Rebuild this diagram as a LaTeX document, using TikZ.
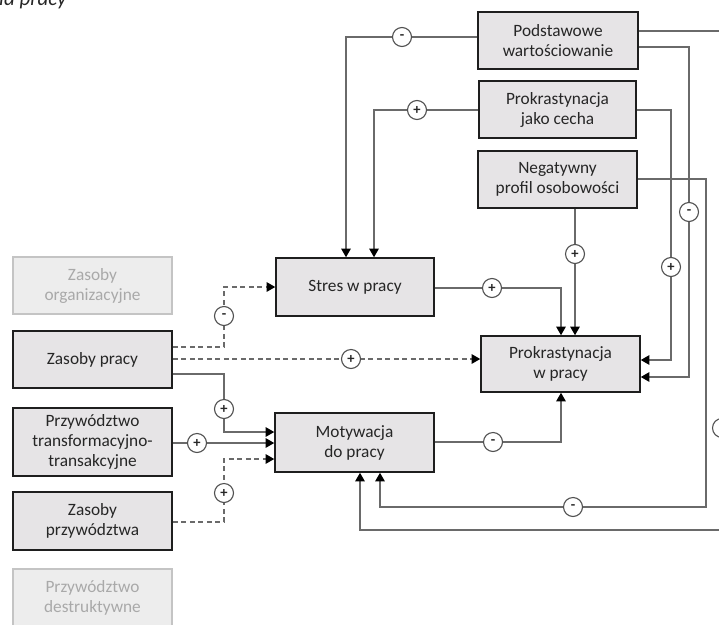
\documentclass[tikz,border=0pt]{standalone}
\usepackage{fontspec}
\setmainfont{Carlito}
\usetikzlibrary{arrows.meta}
\definecolor{boxfill}{HTML}{E6E4E6}
\definecolor{boxline}{HTML}{1E1E1E}
\definecolor{fadefill}{HTML}{EDEDED}
\definecolor{fadeline}{HTML}{C4C4C4}
\definecolor{fadetext}{HTML}{A9A9A9}
\definecolor{wire}{HTML}{6A6A6A}
\definecolor{inktext}{HTML}{262626}

\begin{document}
\begin{tikzpicture}[x=1pt,y=-1pt,
  factor/.style={draw=boxline, line width=1.6pt, fill=boxfill, text=inktext,
    minimum width=159pt, minimum height=57pt, inner sep=0pt, align=center,
    font=\fontsize{17.3}{20}\selectfont},
  faded/.style={factor, draw=fadeline, fill=fadefill, text=fadetext},
  conn/.style={draw=wire, line width=1.1pt,
    -{Triangle[length=8.5pt,width=9.5pt,color=black]}},
  broken/.style={dash pattern=on 5pt off 3.5pt},
  sign/.style={circle, draw=wire!75!black, line width=1.1pt, fill=white,
    minimum size=19pt, inner sep=0pt, text=inktext,
    font=\fontsize{14.5}{14.5}\selectfont\bfseries}
]
\useasboundingbox (0,0) rectangle (719,624);
\clip (0,0) rectangle (719,624);

% caption fragment
\node[anchor=base west, inner sep=0pt, text=inktext,
  font=\fontsize{21}{21}\selectfont\itshape] (title) at (-1,5.5) {ia pracy};

% factors on the right
\node[factor, minimum width=160pt] (pw)  at (558,40.5)   {Podstawowe\\wartościowanie};
\node[factor, minimum width=157pt] (pjc) at (557.5,109.5) {Prokrastynacja\\jako cecha};
\node[factor] (npo) at (557.5,179.5) {Negatywny\\profil osobowości};

% central variables
\node[factor, minimum width=158pt, minimum height=58pt] (stres) at (355,287) {Stres w pracy};
\node[factor, minimum height=56pt] (pwp) at (560.5,364) {Prokrastynacja\\w pracy};
\node[factor, minimum height=59pt] (mot) at (354.5,442.5) {Motywacja\\do pracy};

% resources and leadership on the left
\node[faded]  (zo)  at (92.5,285.5) {Zasoby\\organizacyjne};
\node[factor] (zp)  at (92.5,359.5) {Zasoby pracy};
\node[factor, minimum height=68pt] (ptt) at (92.5,442) {Przywództwo\\transformacyjno-\\transakcyjne};
\node[factor, minimum height=58pt] (zpr) at (92.5,521) {Zasoby\\przywództwa};
\node[faded]  (pd)  at (92.5,597.5) {Przywództwo\\destruktywne};

% connectors
\draw[conn] (pw.west |- 0,37) -| (stres.north -| 346,0);
\draw[conn] (pjc.west |- 0,110) -| (stres.north -| 374,0);
\draw[conn] (pw.east |- 0,47) -| (689,377) -- (pwp.east |- 0,377);
\draw[conn] (pjc.east |- 0,110) -| (671,360) -- (pwp.east |- 0,360);
\draw[conn] (npo.east |- 0,179) -| (706,507) -| (mot.south -| 380,0);
\draw[conn] (pw.east |- 0,31) -| (722,530) -| (mot.south -| 360,0);
\draw[conn] (npo.south -| 575,0) -- (pwp.north -| 575,0);
\draw[conn] (stres.east |- 0,288) -| (pwp.north -| 561,0);
\draw[conn,broken] (zp.east |- 0,347) -| (224,287) -- (stres.west |- 0,287);
\draw[conn,broken] (zp.east |- 0,359) -- (pwp.west |- 0,359);
\draw[conn] (zp.east |- 0,374) -| (224,432) -- (mot.west |- 0,432);
\draw[conn] (ptt.east |- 0,443) -- (mot.west |- 0,443);
\draw[conn,broken] (zpr.east |- 0,522) -| (224,459) -- (mot.west |- 0,459);
\draw[conn] (mot.east |- 0,442) -| (pwp.south -| 561,0);

% signs of the effects
\node[sign] (s1)  at (402,37)  {-};
\node[sign] (s2)  at (417,110) {+};
\node[sign] (s3)  at (689,212) {-};
\node[sign] (s4)  at (671,267) {+};
\node[sign] (s5)  at (573,507) {-};
\node[sign] (s6)  at (722,428) {-};
\node[sign] (s7)  at (575,254) {+};
\node[sign] (s8)  at (492,288) {+};
\node[sign] (s9)  at (224,316) {-};
\node[sign] (s10) at (351,359) {+};
\node[sign] (s11) at (224,409) {+};
\node[sign] (s12) at (197,443) {+};
\node[sign] (s13) at (224,493) {+};
\node[sign] (s14) at (493,442) {-};
\end{tikzpicture}
\end{document}
